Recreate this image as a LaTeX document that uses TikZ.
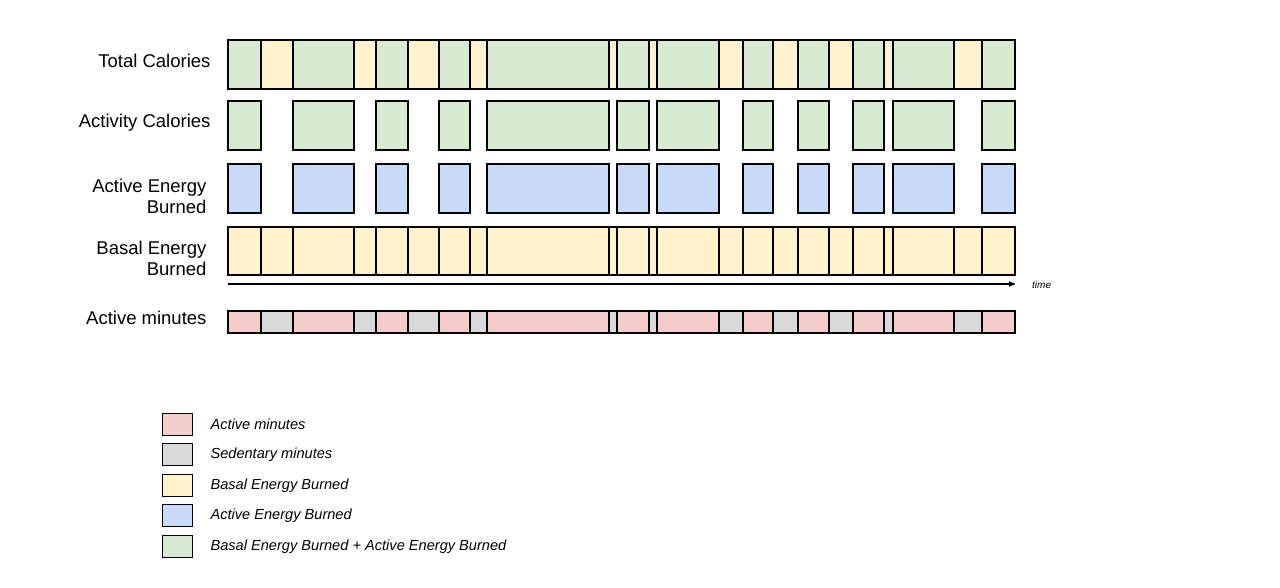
\documentclass[tikz,border=0pt]{standalone}
\usepackage{fontspec}
\setmainfont{Liberation Sans}
\usepackage{xcolor}
\usetikzlibrary{arrows,positioning}
\tikzset{>=stealth'}
\definecolor{totalgreen}{HTML}{D9EAD3}
\definecolor{basalyellow}{HTML}{FFF2CC}
\definecolor{activeblue}{HTML}{C9DAF8}
\definecolor{minpink}{HTML}{F4CCCC}
\definecolor{sedgray}{HTML}{D9D9D9}

\begin{document}
\begin{tikzpicture}[x=1pt,y=-1pt,
                    seg/.style={draw=black, line width=1.2pt},
                    rowlabel/.style={anchor=east, align=right, font=\fontsize{18.5}{21}\selectfont},
                    legbox/.style={draw=black, line width=1pt},
                    legtext/.style={anchor=west, font=\fontsize{14.6}{17}\selectfont\itshape},
                   ]

\useasboundingbox (0,0) rectangle (1280,588);

% row labels
\node[rowlabel] (total) at (214,61) {Total Calories};
\node[rowlabel] (activity) at (214,123) {Activity Calories};
\node[rowlabel] (activeE) at (210,196) {Active Energy\\Burned};
\node[rowlabel] (basalE) at (210,258) {Basal Energy\\Burned};
\node[rowlabel] (minutes) at (210,318) {Active minutes};

% segments: start/end/active
\foreach \a/\b/\k in {228/261/1, 261/293/0, 293/354/1, 354/376/0, 376/408/1, 408/439/0,
                      439/470/1, 470/487/0, 487/609/1, 609/617/0, 617/649/1, 649/657/0,
                      657/719/1, 719/743/0, 743/773/1, 773/798/0, 798/829/1, 829/853/0,
                      853/884/1, 884/893/0, 893/954/1, 954/982/0, 982/1015/1}
{
  \ifnum\k=1
    \draw[seg, fill=totalgreen] (\a,40) rectangle (\b,89);
    \draw[seg, fill=totalgreen] (\a,101) rectangle (\b,150);
    \draw[seg, fill=activeblue] (\a,164) rectangle (\b,213);
    \draw[seg, fill=minpink] (\a,311) rectangle (\b,333);
  \else
    \draw[seg, fill=basalyellow] (\a,40) rectangle (\b,89);
    \draw[seg, fill=sedgray] (\a,311) rectangle (\b,333);
  \fi
  \draw[seg, fill=basalyellow] (\a,227) rectangle (\b,275);
}

% time axis
\coordinate (t0) at (228,284);
\coordinate (t1) at (1015,284);
\draw[line width=1.2pt, ->] (t0) -- (t1);
\node[anchor=west, inner sep=0pt, font=\fontsize{10}{12}\selectfont\itshape] (time) at (1032,285) {time};

% legend
\foreach \c/\t [count=\i from 0] in {minpink/Active minutes, sedgray/Sedentary minutes,
                                     basalyellow/Basal Energy Burned, activeblue/Active Energy Burned,
                                     totalgreen/Basal Energy Burned + Active Energy Burned}
{
  \draw[legbox, fill=\c] (162,413+30.5*\i) rectangle (192,435+30.5*\i);
  \node[legtext] (leg\i) at (207,424.5+30.5*\i) {\t};
}

\end{tikzpicture}
\end{document}
